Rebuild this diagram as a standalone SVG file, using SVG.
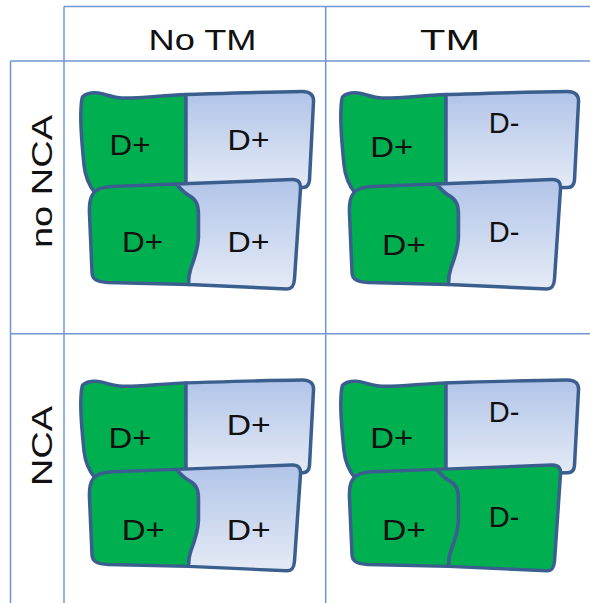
<svg xmlns="http://www.w3.org/2000/svg" xmlns:xlink="http://www.w3.org/1999/xlink" width="590" height="603" viewBox="0 0 590 603">
  <style>
    .grid { stroke: #7096d4; stroke-width: 1.5; fill: none; }
    .piece { stroke: #3a5f8f; stroke-width: 3.5; stroke-linejoin: round; }
    .green { fill: #00b050; }
    .blue { fill: url(#blueFill); }
    .lbl { font-family: "Liberation Sans", Arial, sans-serif; font-size: 29px; fill: #111; text-anchor: middle; }
    .head { font-family: "Liberation Sans", Arial, sans-serif; font-size: 30px; fill: #111; text-anchor: middle; }
  </style>
  <defs>
    <linearGradient id="blueFill" x1="0" y1="0" x2="0" y2="1">
      <stop offset="0" stop-color="#b1c4e8"/>
      <stop offset="1" stop-color="#e5ebf6"/>
    </linearGradient>
    <!-- four pieces of one sample, in the coordinates of the upper-left panel -->
    <path id="tl" d="M82.5,97 C86,93.5 92,92.5 98,93 C106,94 112,97.5 122,98 C140,98.5 160,95.5 186,94.5 L186,186 L95,193 C88,184 85,175 84,165 C82.5,150 80.5,130 80.8,114 C81,106 81.3,100 82.5,97 Z"/>
    <path id="tr" d="M186,94.5 C220,93.5 260,92 302,91.5 C310,91.5 314,95 313.5,102 L309.5,180 C309,185 307,187.5 303,187.5 L186,190 Z"/>
    <path id="trw" d="M186,94.5 C220,93.5 262,92 307,91.5 C315,91.5 319,95 318.5,102 L314.5,180 C314,185 312,187.5 308,187.5 L186,190 Z"/>
    <path id="bl" d="M93,194 C96,188.5 104,187 112,186.5 L176.5,184 C181,189 184,193 190,196 C197,200 198.5,206 198.5,215 L198.5,237 C198,250 194,260 191,268 C189,274 188.5,280 188.5,284.5 L108,282.5 C98,282 92,280 92,272 L89.5,214 C89,204 90,198 93,194 Z"/>
    <path id="br" d="M176.5,184 L292,179.5 C298,179.3 301,182 300.5,189 L294.5,279 C294,286 292,289 287,289 L188.5,284.5 C188.5,280 189,274 191,268 C194,260 198,250 198.5,237 L198.5,215 C198.5,206 197,200 190,196 C184,193 181,189 176.5,184 Z"/>
  </defs>

  <rect width="590" height="603" fill="#ffffff"/>

  <!-- table rules -->
  <g id="grid" class="grid">
    <line x1="64" y1="6.5" x2="590" y2="6.5"/>
    <line x1="10.5" y1="61" x2="590" y2="61"/>
    <line x1="10.5" y1="333.7" x2="590" y2="333.7"/>
    <line x1="10.5" y1="61" x2="10.5" y2="603"/>
    <line x1="64" y1="6.5" x2="64" y2="603"/>
    <line x1="325.7" y1="6.5" x2="325.7" y2="603"/>
  </g>

  <!-- headers -->
  <g id="col-notm"><text class="head" x="202.5" y="50" textLength="108" lengthAdjust="spacingAndGlyphs">No TM</text></g>
  <g id="col-tm"><text class="head" x="450" y="50" textLength="60" lengthAdjust="spacingAndGlyphs">TM</text></g>
  <g id="row-nonca"><text class="head" transform="translate(52,181.5) rotate(-90)" textLength="133" lengthAdjust="spacingAndGlyphs">no NCA</text></g>
  <g id="row-nca"><text class="head" transform="translate(52,446) rotate(-90)" textLength="80" lengthAdjust="spacingAndGlyphs">NCA</text></g>

  <!-- no NCA / No TM -->
  <g id="c1">
    <g id="c1-tl"><use xlink:href="#tl" class="piece green"/></g>
    <g id="c1-tr"><use xlink:href="#tr" class="piece blue"/></g>
    <g id="c1-bl"><use xlink:href="#bl" class="piece green"/></g>
    <g id="c1-br"><use xlink:href="#br" class="piece blue"/></g>
    <text class="lbl" x="130" y="155" textLength="41" lengthAdjust="spacingAndGlyphs">D+</text>
    <text class="lbl" x="248.5" y="150" textLength="42" lengthAdjust="spacingAndGlyphs">D+</text>
    <text class="lbl" x="142.5" y="251.7" textLength="41" lengthAdjust="spacingAndGlyphs">D+</text>
    <text class="lbl" x="248.5" y="251.7" textLength="42" lengthAdjust="spacingAndGlyphs">D+</text>
  </g>

  <!-- no NCA / TM -->
  <g id="c2">
    <g transform="translate(260,0)">
      <g id="c2-tl"><use xlink:href="#tl" class="piece green"/></g>
      <g id="c2-tr"><use xlink:href="#trw" class="piece blue"/></g>
      <g id="c2-bl"><use xlink:href="#bl" class="piece green"/></g>
      <g id="c2-br"><use xlink:href="#br" class="piece blue"/></g>
    </g>
    <text class="lbl" x="391.7" y="156.7" textLength="43" lengthAdjust="spacingAndGlyphs">D+</text>
    <text class="lbl" x="504" y="133.3">D-</text>
    <text class="lbl" x="404" y="255" textLength="44" lengthAdjust="spacingAndGlyphs">D+</text>
    <text class="lbl" x="504" y="241.7">D-</text>
  </g>

  <!-- NCA / No TM -->
  <g id="c3">
    <g transform="matrix(1,0,0,0.966,0,291.6)">
      <g id="c3-tl"><use xlink:href="#tl" class="piece green"/></g>
      <g id="c3-tr"><use xlink:href="#tr" class="piece blue"/></g>
      <g id="c3-bl"><use xlink:href="#bl" class="piece green"/></g>
      <g id="c3-br"><use xlink:href="#br" class="piece blue"/></g>
    </g>
    <text class="lbl" x="130" y="448.3" textLength="43" lengthAdjust="spacingAndGlyphs">D+</text>
    <text class="lbl" x="248.7" y="435" textLength="44" lengthAdjust="spacingAndGlyphs">D+</text>
    <text class="lbl" x="143.3" y="540" textLength="43" lengthAdjust="spacingAndGlyphs">D+</text>
    <text class="lbl" x="248.7" y="540" textLength="44" lengthAdjust="spacingAndGlyphs">D+</text>
  </g>

  <!-- NCA / TM -->
  <g id="c4">
    <g transform="matrix(1,0,0,0.966,260,291.6)">
      <g id="c4-tl"><use xlink:href="#tl" class="piece green"/></g>
      <g id="c4-tr"><use xlink:href="#trw" class="piece blue"/></g>
      <g id="c4-bl"><use xlink:href="#bl" class="piece green"/></g>
      <g id="c4-br"><use xlink:href="#br" class="piece green"/></g>
    </g>
    <text class="lbl" x="391.7" y="448.3" textLength="43" lengthAdjust="spacingAndGlyphs">D+</text>
    <text class="lbl" x="504" y="421.7">D-</text>
    <text class="lbl" x="404" y="540" textLength="44" lengthAdjust="spacingAndGlyphs">D+</text>
    <text class="lbl" x="504" y="526.7">D-</text>
  </g>
</svg>
